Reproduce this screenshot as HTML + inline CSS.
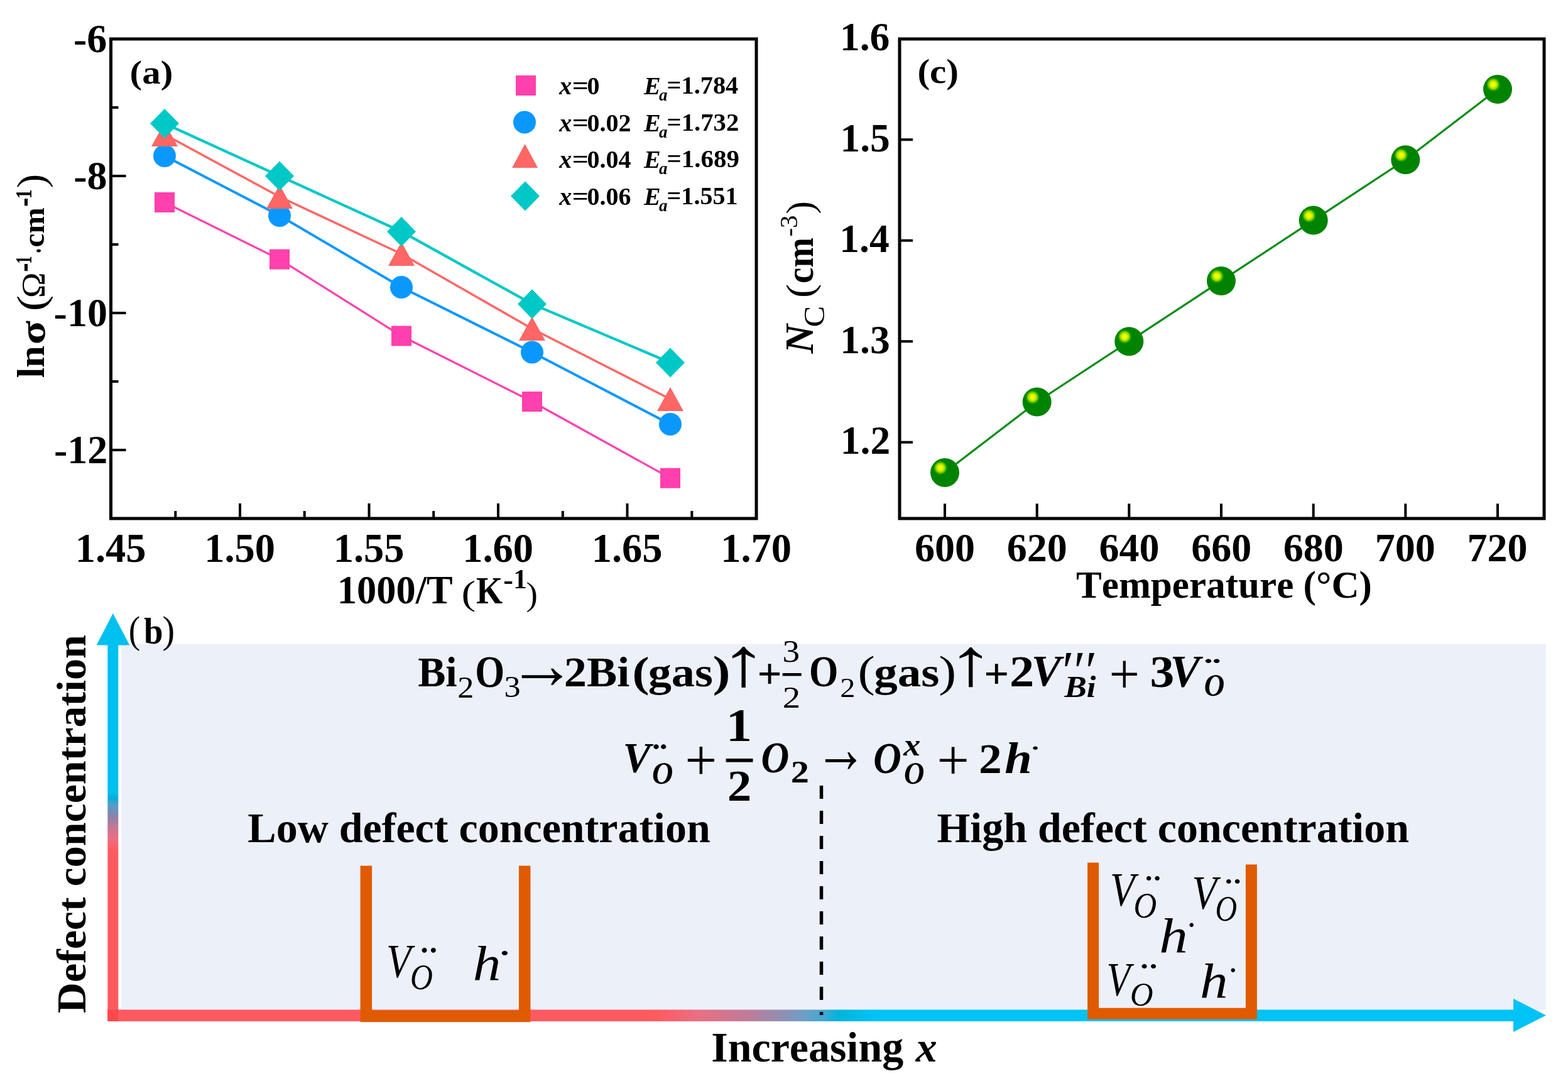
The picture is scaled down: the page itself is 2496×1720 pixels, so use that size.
<!DOCTYPE html>
<html><head><meta charset="utf-8"><title>Figure</title>
<style>html,body{margin:0;padding:0;background:#fff;overflow:hidden}svg{display:block}text{font-kerning:none;font-variant-ligatures:none}</style>
</head><body>
<svg width="2496" height="1720" viewBox="0 0 2496 1720" font-family="'Liberation Serif', 'Times New Roman', serif">
<defs>
<radialGradient id="hl" cx="0.5" cy="0.5" r="0.5">
<stop offset="0" stop-color="#ffff00"/>
<stop offset="0.3" stop-color="#e8f800"/>
<stop offset="0.6" stop-color="#90d800"/>
<stop offset="0.85" stop-color="#20a800" stop-opacity="0.6"/>
<stop offset="1" stop-color="#008400" stop-opacity="0"/>
</radialGradient>
<linearGradient id="vgrad" x1="0" y1="976" x2="0" y2="1625" gradientUnits="userSpaceOnUse">
<stop offset="0" stop-color="#00c0f0"/>
<stop offset="0.4376" stop-color="#00c0f0"/>
<stop offset="0.453" stop-color="#00aed8"/>
<stop offset="0.468" stop-color="#50a0c8"/>
<stop offset="0.499" stop-color="#8c82aa"/>
<stop offset="0.522" stop-color="#c07896"/>
<stop offset="0.553" stop-color="#f06c82"/>
<stop offset="0.584" stop-color="#ff5a5f"/>
<stop offset="1" stop-color="#ff5a5f"/>
</linearGradient>
<linearGradient id="hgrad" x1="171" y1="0" x2="2461" y2="0" gradientUnits="userSpaceOnUse">
<stop offset="0" stop-color="#ff5a5f"/>
<stop offset="0.3808" stop-color="#ff5a5f"/>
<stop offset="0.4092" stop-color="#eb6e82"/>
<stop offset="0.4467" stop-color="#be7d9b"/>
<stop offset="0.4655" stop-color="#968caf"/>
<stop offset="0.4847" stop-color="#6e9fc8"/>
<stop offset="0.4987" stop-color="#3caad2"/>
<stop offset="0.5083" stop-color="#00b4dc"/>
<stop offset="0.5319" stop-color="#00c3f5"/>
<stop offset="1" stop-color="#00c3f5"/>
</linearGradient>
</defs>
<rect x="0" y="0" width="2496" height="1720" fill="#fff"/>
<g stroke="#000" fill="none">
<rect x="176.5" y="62" width="1027.5" height="763" stroke-width="5"/>
<line x1="176.5" y1="62.0" x2="200.5" y2="62.0" stroke-width="4"/>
<line x1="176.5" y1="280.0" x2="200.5" y2="280.0" stroke-width="4"/>
<line x1="176.5" y1="498.0" x2="200.5" y2="498.0" stroke-width="4"/>
<line x1="176.5" y1="716.0" x2="200.5" y2="716.0" stroke-width="4"/>
<line x1="176.5" y1="171.0" x2="188.5" y2="171.0" stroke-width="4"/>
<line x1="176.5" y1="389.0" x2="188.5" y2="389.0" stroke-width="4"/>
<line x1="176.5" y1="607.0" x2="188.5" y2="607.0" stroke-width="4"/>
<line x1="382.0" y1="825" x2="382.0" y2="801" stroke-width="4"/>
<line x1="587.5" y1="825" x2="587.5" y2="801" stroke-width="4"/>
<line x1="793.0" y1="825" x2="793.0" y2="801" stroke-width="4"/>
<line x1="998.5" y1="825" x2="998.5" y2="801" stroke-width="4"/>
<line x1="279.3" y1="825" x2="279.3" y2="813" stroke-width="4"/>
<line x1="484.7" y1="825" x2="484.7" y2="813" stroke-width="4"/>
<line x1="690.2" y1="825" x2="690.2" y2="813" stroke-width="4"/>
<line x1="895.8" y1="825" x2="895.8" y2="813" stroke-width="4"/>
<line x1="1101.3" y1="825" x2="1101.3" y2="813" stroke-width="4"/>
</g>
<text x="117.06" y="82.88" font-size="64" font-weight="bold">-6</text>
<text x="117.31" y="300.97" font-size="64" font-weight="bold">-8</text>
<text x="85.62" y="518.97" font-size="64" font-weight="bold">-10</text>
<text x="85.94" y="737.19" font-size="64" font-weight="bold">-12</text>
<text x="119.66" y="894.09" font-size="64.5" font-weight="bold">1.45</text>
<text x="325.21" y="894.09" font-size="64.5" font-weight="bold">1.50</text>
<text x="530.66" y="894.09" font-size="64.5" font-weight="bold">1.55</text>
<text x="736.21" y="894.09" font-size="64.5" font-weight="bold">1.60</text>
<text x="941.66" y="894.09" font-size="64.5" font-weight="bold">1.65</text>
<text x="1147.21" y="894.09" font-size="64.5" font-weight="bold">1.70</text>
<text transform="matrix(0.6243 0 0 0.6268 536.80 960.39)" font-size="100" font-weight="bold">1000/T</text>
<text transform="matrix(0.6814 0 0 0.5426 734.51 962.25)" font-size="100">(</text>
<text transform="matrix(0.5419 0 0 0.6078 757.97 960.20)" font-size="100" font-weight="bold">K</text>
<text transform="matrix(0.4735 0 0 0.4708 801.17 937.68)" font-size="100" font-weight="bold">-</text>
<text transform="matrix(0.4319 0 0 0.4514 817.24 936.30)" font-size="100" font-weight="bold">1</text>
<text transform="matrix(0.5529 0 0 0.5272 837.42 962.58)" font-size="100">)</text>
<text transform="translate(70.20 601.35) rotate(-90) scale(0.5887 0.6096)" font-size="100" font-weight="bold">l</text>
<text transform="translate(69.60 584.99) rotate(-90) scale(0.6282 0.5985)" font-size="100" font-weight="bold">n</text>
<text transform="translate(70.75 548.27) rotate(-90) scale(0.7000 0.5639)" font-size="100" font-weight="bold">σ</text>
<text transform="translate(71.30 495.37) rotate(-90) scale(0.7670 0.6341)" font-size="100">(</text>
<text transform="translate(70.70 473.92) rotate(-90) scale(0.5456 0.5271)" font-size="100">Ω</text>
<text transform="translate(57.27 432.80) rotate(-90) scale(0.4312 0.6693)" font-size="100">-</text>
<text transform="translate(49.90 419.66) rotate(-90) scale(0.2445 0.3681)" font-size="100" font-weight="bold">1</text>
<text transform="translate(65.39 402.66) rotate(-90) scale(0.3084 0.4318)" font-size="100" font-weight="bold">.</text>
<text transform="translate(70.24 393.50) rotate(-90) scale(0.4969 0.4933)" font-size="100" font-weight="bold">cm</text>
<text transform="translate(57.27 329.11) rotate(-90) scale(0.4350 0.6693)" font-size="100">-</text>
<text transform="translate(49.90 316.46) rotate(-90) scale(0.3069 0.3681)" font-size="100" font-weight="bold">1</text>
<text transform="translate(71.30 299.18) rotate(-90) scale(0.6775 0.6341)" font-size="100">)</text>
<text transform="matrix(0.5899 0 0 0.5272 206.61 132.58)" font-size="100" font-weight="bold">(a)</text>
<polyline points="262,322 445,412.6 639,534.5 847,639 1067,760.7" fill="none" stroke="#ff40ad" stroke-width="3.2"/>
<polyline points="262,248 445,343 639,457 847,560.5 1067,675" fill="none" stroke="#0a98ff" stroke-width="4"/>
<polyline points="262,214 445,313 639,404 847,523 1067,635" fill="none" stroke="#ff6666" stroke-width="3.5"/>
<polyline points="262,196.5 445,280 639,368.5 847,483.7 1067,577" fill="none" stroke="#00c8c6" stroke-width="4.2"/>
<rect x="246.0" y="306.0" width="32" height="32" fill="#ff40ad"/>
<rect x="429.0" y="396.6" width="32" height="32" fill="#ff40ad"/>
<rect x="623.0" y="518.5" width="32" height="32" fill="#ff40ad"/>
<rect x="831.0" y="623.0" width="32" height="32" fill="#ff40ad"/>
<rect x="1051.0" y="744.7" width="32" height="32" fill="#ff40ad"/>
<circle cx="262" cy="248" r="18.0" fill="#0a98ff"/>
<circle cx="445" cy="343" r="18.0" fill="#0a98ff"/>
<circle cx="639" cy="457" r="18.0" fill="#0a98ff"/>
<circle cx="847" cy="560.5" r="18.0" fill="#0a98ff"/>
<circle cx="1067" cy="675" r="18.0" fill="#0a98ff"/>
<polygon points="241.0,233.0 283.0,233.0 262,195.0" fill="#ff6666"/>
<polygon points="424.0,332.0 466.0,332.0 445,294.0" fill="#ff6666"/>
<polygon points="618.0,423.0 660.0,423.0 639,385.0" fill="#ff6666"/>
<polygon points="826.0,542.0 868.0,542.0 847,504.0" fill="#ff6666"/>
<polygon points="1046.0,654.0 1088.0,654.0 1067,616.0" fill="#ff6666"/>
<polygon points="239.0,196.5 262,173.0 285.0,196.5 262,220.0" fill="#00c8c6"/>
<polygon points="422.0,280 445,256.5 468.0,280 445,303.5" fill="#00c8c6"/>
<polygon points="616.0,368.5 639,345.0 662.0,368.5 639,392.0" fill="#00c8c6"/>
<polygon points="824.0,483.7 847,460.2 870.0,483.7 847,507.2" fill="#00c8c6"/>
<polygon points="1044.0,577 1067,553.5 1090.0,577 1067,600.5" fill="#00c8c6"/>
<rect x="821.0" y="120.0" width="32" height="32" fill="#ff40ad"/>
<circle cx="835" cy="194.5" r="18.0" fill="#0a98ff"/>
<polygon points="815.1,267.0 856.1,267.0 835.6,229.0" fill="#ff6666"/>
<polygon points="813.0,312 836,288.5 859.0,312 836,335.5" fill="#00c8c6"/>
<text x="890.19" y="149.50" font-size="40" font-weight="bold" font-style="italic">x</text>
<text transform="matrix(1.1500 0 0 1 910.71 149.50)" font-size="40" font-weight="bold">=</text>
<text x="934.48" y="149.50" font-size="40" font-weight="bold">0</text>
<text x="1025.09" y="149.50" font-size="40" font-weight="bold" font-style="italic">E</text>
<text x="1048.98" y="160.00" font-size="27" font-weight="bold" font-style="italic">a</text>
<text transform="matrix(0.4034 0 0 0.4034 1061.49 149.33)" font-size="100" font-weight="bold">=1.784</text>
<text x="890.19" y="208.50" font-size="40" font-weight="bold" font-style="italic">x</text>
<text transform="matrix(1.1500 0 0 1 910.71 208.50)" font-size="40" font-weight="bold">=</text>
<text x="934.48" y="208.50" font-size="40" font-weight="bold">0.02</text>
<text x="1025.09" y="208.50" font-size="40" font-weight="bold" font-style="italic">E</text>
<text x="1048.98" y="219.00" font-size="27" font-weight="bold" font-style="italic">a</text>
<text transform="matrix(0.4070 0 0 0.4052 1061.47 208.33)" font-size="100" font-weight="bold">=1.732</text>
<text x="890.19" y="266.50" font-size="40" font-weight="bold" font-style="italic">x</text>
<text transform="matrix(1.1500 0 0 1 910.71 266.50)" font-size="40" font-weight="bold">=</text>
<text x="934.48" y="266.50" font-size="40" font-weight="bold">0.04</text>
<text x="1025.09" y="266.50" font-size="40" font-weight="bold" font-style="italic">E</text>
<text x="1048.98" y="277.00" font-size="27" font-weight="bold" font-style="italic">a</text>
<text transform="matrix(0.4093 0 0 0.4034 1061.46 266.33)" font-size="100" font-weight="bold">=1.689</text>
<text x="890.19" y="325.50" font-size="40" font-weight="bold" font-style="italic">x</text>
<text transform="matrix(1.1500 0 0 1 910.71 325.50)" font-size="40" font-weight="bold">=</text>
<text x="934.48" y="325.50" font-size="40" font-weight="bold">0.06</text>
<text x="1025.09" y="325.50" font-size="40" font-weight="bold" font-style="italic">E</text>
<text x="1048.98" y="336.00" font-size="27" font-weight="bold" font-style="italic">a</text>
<text transform="matrix(0.4014 0 0 0.4063 1061.50 325.32)" font-size="100" font-weight="bold">=1.551</text>
<g stroke="#000" fill="none">
<rect x="1432" y="62" width="1026" height="763" stroke-width="5"/>
<line x1="1432" y1="703.7" x2="1453" y2="703.7" stroke-width="4"/>
<line x1="1432" y1="543.2" x2="1453" y2="543.2" stroke-width="4"/>
<line x1="1432" y1="382.7" x2="1453" y2="382.7" stroke-width="4"/>
<line x1="1432" y1="222.2" x2="1453" y2="222.2" stroke-width="4"/>
<line x1="1504.0" y1="825" x2="1504.0" y2="801.4" stroke-width="4"/>
<line x1="1650.7" y1="825" x2="1650.7" y2="801.4" stroke-width="4"/>
<line x1="1797.3" y1="825" x2="1797.3" y2="801.4" stroke-width="4"/>
<line x1="1944.0" y1="825" x2="1944.0" y2="801.4" stroke-width="4"/>
<line x1="2090.7" y1="825" x2="2090.7" y2="801.4" stroke-width="4"/>
<line x1="2237.3" y1="825" x2="2237.3" y2="801.4" stroke-width="4"/>
<line x1="2384.0" y1="825" x2="2384.0" y2="801.4" stroke-width="4"/>
</g>
<text x="1337.85" y="722.27" font-size="63.5" font-weight="bold">1.2</text>
<text x="1337.30" y="561.77" font-size="63.5" font-weight="bold">1.3</text>
<text x="1336.30" y="401.21" font-size="63.5" font-weight="bold">1.4</text>
<text x="1337.45" y="240.71" font-size="63.5" font-weight="bold">1.5</text>
<text x="1336.99" y="80.27" font-size="63.5" font-weight="bold">1.6</text>
<text x="1456.12" y="893.38" font-size="64" font-weight="bold">600</text>
<text x="1602.80" y="893.38" font-size="64" font-weight="bold">620</text>
<text x="1749.46" y="893.38" font-size="64" font-weight="bold">640</text>
<text x="1896.13" y="893.38" font-size="64" font-weight="bold">660</text>
<text x="2042.80" y="893.38" font-size="64" font-weight="bold">680</text>
<text x="2188.74" y="893.38" font-size="64" font-weight="bold">700</text>
<text x="2335.41" y="893.38" font-size="64" font-weight="bold">720</text>
<text transform="matrix(0.6115 0 0 0.6176 1713.04 950.85)" font-size="100" font-weight="bold">Temperature (°C)</text>
<text transform="translate(1293.50 562.40) rotate(-90) scale(0.6437 0.6430)" font-size="100" font-weight="bold" font-style="italic">N</text>
<text transform="translate(1311.55 520.48) rotate(-90) scale(0.5063 0.4614)" font-size="100">C</text>
<text transform="translate(1294.33 473.91) rotate(-90) scale(0.6619 0.6187)" font-size="100">(</text>
<text transform="translate(1293.83 450.95) rotate(-90) scale(0.5712 0.6119)" font-size="100" font-weight="bold">cm</text>
<text transform="translate(1268.60 376.52) rotate(-90) scale(0.4096 0.4048)" font-size="100">-3</text>
<text transform="translate(1294.33 340.58) rotate(-90) scale(0.6152 0.6187)" font-size="100">)</text>
<text transform="matrix(0.5920 0 0 0.5514 1460.40 132.26)" font-size="100" font-weight="bold">(c)</text>
<polyline points="1504.0,751.9 1650.7,639.5 1797.3,543.2 1944.0,446.9 2090.7,350.6 2237.3,254.3 2384.0,142.0" fill="none" stroke="#008c14" stroke-width="3.2"/>
<circle cx="1504.0" cy="751.9" r="23" fill="#008300"/>
<circle cx="1497.0" cy="744.4" r="12" fill="url(#hl)"/>
<circle cx="1650.7" cy="639.5" r="23" fill="#008300"/>
<circle cx="1643.7" cy="632.0" r="12" fill="url(#hl)"/>
<circle cx="1797.3" cy="543.2" r="23" fill="#008300"/>
<circle cx="1790.3" cy="535.7" r="12" fill="url(#hl)"/>
<circle cx="1944.0" cy="446.9" r="23" fill="#008300"/>
<circle cx="1937.0" cy="439.4" r="12" fill="url(#hl)"/>
<circle cx="2090.7" cy="350.6" r="23" fill="#008300"/>
<circle cx="2083.7" cy="343.1" r="12" fill="url(#hl)"/>
<circle cx="2237.3" cy="254.3" r="23" fill="#008300"/>
<circle cx="2230.3" cy="246.8" r="12" fill="url(#hl)"/>
<circle cx="2384.0" cy="142.0" r="23" fill="#008300"/>
<circle cx="2377.0" cy="134.5" r="12" fill="url(#hl)"/>
<rect x="193" y="1024.5" width="2268" height="582" fill="#ecf0f9"/>
<rect x="171.3" y="1024" width="17" height="601" fill="url(#vgrad)"/>
<polygon points="153.6,1026.5 206.3,1026.5 179.8,976" fill="#00c0f0"/>
<rect x="171.3" y="1606.5" width="2240" height="18.5" fill="url(#hgrad)"/>
<polygon points="2409,1589 2409,1642 2461,1615.5" fill="#00c3f5"/>
<rect x="171.3" y="1606.5" width="17" height="18.5" fill="#ff3a40" opacity="0.6"/>
<line x1="1307.5" y1="1250" x2="1307.5" y2="1615" stroke="#000" stroke-width="5.5" stroke-dasharray="21 19"/>
<path d="M582.85 1377.6 V1617.1 H835.2 V1377.6" fill="none" stroke="#e05a00" stroke-width="18.5"/>
<path d="M1740.1 1372.6 V1612.7 H1991.9 V1375.4" fill="none" stroke="#e05a00" stroke-width="18"/>
<text transform="matrix(0.5529 0 0 0.6022 204.87 1023.18)" font-size="100">(</text>
<text transform="matrix(0.5488 0 0 0.5927 228.90 1023.92)" font-size="100" font-weight="bold">b</text>
<text transform="matrix(0.5918 0 0 0.6022 258.59 1023.18)" font-size="100">)</text>
<text transform="translate(136.36 1612.19) rotate(-90) scale(0.6796 0.6598)" font-size="100" font-weight="bold">Defect concentration</text>
<text x="394.34" y="1340.40" font-size="68" font-weight="bold">Low defect concentration</text>
<text x="1491.44" y="1340.00" font-size="68" font-weight="bold">High defect concentration</text>
<text x="1132.21" y="1689.00" font-size="68" font-weight="bold">Increasing </text>
<text x="1457.83" y="1689.00" font-size="68" font-weight="bold" font-style="italic">x</text>
<g><text transform="matrix(0.6622 0 0 0.6731 665.20 1092.40)" font-size="100" font-weight="bold">Bi</text><text transform="matrix(0.5238 0 0 0.4893 728.30 1109.90)" font-size="100">2</text><text transform="matrix(0.6028 0 0 0.7248 756.26 1092.99)" font-size="100" font-weight="bold">O</text><text transform="matrix(0.5229 0 0 0.4748 802.50 1109.44)" font-size="100">3</text><text transform="matrix(1.0848 0 0 1.1093 808.86 1095.42)" font-size="100">→</text><text transform="matrix(0.7232 0 0 0.6831 897.76 1092.40)" font-size="100" font-weight="bold">2Bi</text><text transform="matrix(0.8215 0 0 0.6838 1006.19 1092.04)" font-size="100" font-weight="bold">(</text><text transform="matrix(0.7427 0 0 0.6541 1031.64 1092.16)" font-size="100" font-weight="bold">gas</text><text transform="matrix(0.8449 0 0 0.6882 1134.58 1092.15)" font-size="100" font-weight="bold">)</text><text transform="matrix(1.5189 0 0 1.0983 1145.83 1090.73)" font-size="100">↑</text><text transform="matrix(0.6863 0 0 0.6784 1205.38 1095.12)" font-size="100" font-weight="bold">+</text><text transform="matrix(0.5519 0 0 0.5031 1245.56 1052.71)" font-size="100">3</text><rect x="1245.6" y="1071" width="30.1" height="4.5"/><text transform="matrix(0.5688 0 0 0.4773 1245.70 1125.90)" font-size="100">2</text><text transform="matrix(0.5954 0 0 0.7040 1287.89 1092.31)" font-size="100" font-weight="bold">O</text><text transform="matrix(0.4839 0 0 0.4395 1337.27 1109.30)" font-size="100">2</text><text transform="matrix(0.8176 0 0 0.7080 1365.41 1092.13)" font-size="100">(</text><text transform="matrix(0.7502 0 0 0.6486 1391.32 1092.29)" font-size="100" font-weight="bold">gas</text><text transform="matrix(0.8410 0 0 0.7080 1494.29 1092.13)" font-size="100">)</text><text transform="matrix(1.5189 0 0 1.0679 1507.23 1089.52)" font-size="100">↑</text><text transform="matrix(0.7035 0 0 0.6719 1566.29 1094.66)" font-size="100" font-weight="bold">+</text><text transform="matrix(0.7855 0 0 0.6887 1607.10 1092.00)" font-size="100" font-weight="bold">2</text><text transform="matrix(0.7083 0 0 0.7016 1641.85 1091.14)" font-size="100" font-weight="bold" font-style="italic">V</text><text transform="matrix(0.8411 0 0 0.8814 1685.98 1096.71)" font-size="100" font-style="italic">′′′</text><text transform="matrix(0.5307 0 0 0.4951 1694.39 1109.25)" font-size="100" font-weight="bold" font-style="italic">Bi</text><text transform="matrix(0.8618 0 0 0.9188 1765.61 1103.31)" font-size="100">+</text><text transform="matrix(0.7753 0 0 0.7204 1830.49 1092.90)" font-size="100" font-weight="bold">3</text><text transform="matrix(0.7157 0 0 0.7135 1862.41 1091.92)" font-size="100" font-weight="bold" font-style="italic">V</text><text transform="matrix(0.8036 0 0 0.5547 1916.82 1085.10)" font-size="100" font-weight="bold">¨</text><text transform="matrix(0.4500 0 0 0.5046 1916.77 1106.91)" font-size="100" font-weight="bold" font-style="italic">O</text><text transform="matrix(0.6639 0 0 0.6807 991.51 1228.17)" font-size="100" font-weight="bold" font-style="italic">V</text><text transform="matrix(0.7111 0 0 0.6485 1038.46 1227.58)" font-size="100" font-weight="bold">¨</text><text transform="matrix(0.4622 0 0 0.5135 1037.93 1247.30)" font-size="100" font-weight="bold" font-style="italic">O</text><text transform="matrix(0.9069 0 0 0.9231 1090.28 1241.15)" font-size="100">+</text><text transform="matrix(0.8284 0 0 0.7316 1155.87 1178.70)" font-size="100" font-weight="bold">1</text><rect x="1155.6" y="1207" width="42.9" height="5.6"/><text transform="matrix(0.7710 0 0 0.6872 1157.76 1274.00)" font-size="100" font-weight="bold">2</text><text transform="matrix(0.6188 0 0 0.6980 1211.46 1229.12)" font-size="100" font-weight="bold" font-style="italic">O</text><text transform="matrix(0.5831 0 0 0.4999 1258.85 1245.00)" font-size="100" font-weight="bold">2</text><text transform="matrix(0.8280 0 0 1.1264 1297.10 1229.20)" font-size="100">→</text><text transform="matrix(0.6158 0 0 0.7055 1390.28 1230.01)" font-size="100" font-weight="bold" font-style="italic">O</text><text transform="matrix(0.5412 0 0 0.5076 1438.26 1202.00)" font-size="100" font-weight="bold" font-style="italic">x</text><text transform="matrix(0.4485 0 0 0.4971 1439.08 1246.51)" font-size="100" font-weight="bold" font-style="italic">O</text><text transform="matrix(0.9176 0 0 0.9016 1491.33 1240.44)" font-size="100">+</text><text transform="matrix(0.7349 0 0 0.6812 1557.91 1230.00)" font-size="100" font-weight="bold">2</text><text transform="matrix(0.7826 0 0 0.6947 1599.27 1230.00)" font-size="100" font-weight="bold" font-style="italic">h</text><text transform="matrix(0.5137 0 0 0.3602 1639.56 1212.99)" font-size="100" font-weight="bold">˙</text></g>
<g><text transform="matrix(0.6445 0 0 0.7628 615.03 1554.85)" font-size="100" font-style="italic">V</text><text transform="matrix(0.4981 0 0 0.5686 653.09 1574.34)" font-size="100" font-style="italic">O</text><text transform="matrix(0.8229 0 0 0.8049 668.97 1559.26)" font-size="100">¨</text><text transform="matrix(0.8926 0 0 0.7869 752.67 1559.50)" font-size="100" font-style="italic">h</text><text transform="matrix(0.8872 0 0 0.6606 788.42 1556.54)" font-size="100">˙</text><text transform="matrix(0.6460 0 0 0.7553 1767.12 1440.86)" font-size="100" font-style="italic">V</text><text transform="matrix(0.5089 0 0 0.5805 1804.44 1460.43)" font-size="100" font-style="italic">O</text><text transform="matrix(0.7749 0 0 0.7132 1822.62 1440.06)" font-size="100">¨</text><text transform="matrix(0.6475 0 0 0.7583 1897.62 1445.65)" font-size="100" font-style="italic">V</text><text transform="matrix(0.4796 0 0 0.5745 1934.39 1465.04)" font-size="100" font-style="italic">O</text><text transform="matrix(0.7934 0 0 0.7132 1949.56 1445.06)" font-size="100">¨</text><text transform="matrix(0.9115 0 0 0.7725 1845.21 1516.40)" font-size="100" font-style="italic">h</text><text transform="matrix(0.6135 0 0 0.6135 1886.46 1508.62)" font-size="100">˙</text><text transform="matrix(0.6185 0 0 0.7583 1761.57 1583.85)" font-size="100" font-style="italic">V</text><text transform="matrix(0.5074 0 0 0.5209 1798.95 1600.49)" font-size="100" font-style="italic">O</text><text transform="matrix(0.8303 0 0 0.7132 1814.95 1580.06)" font-size="100">¨</text><text transform="matrix(0.8926 0 0 0.7855 1910.07 1587.80)" font-size="100" font-style="italic">h</text><text transform="matrix(0.6135 0 0 0.6135 1952.46 1580.62)" font-size="100">˙</text></g>
</svg>
</body></html>
